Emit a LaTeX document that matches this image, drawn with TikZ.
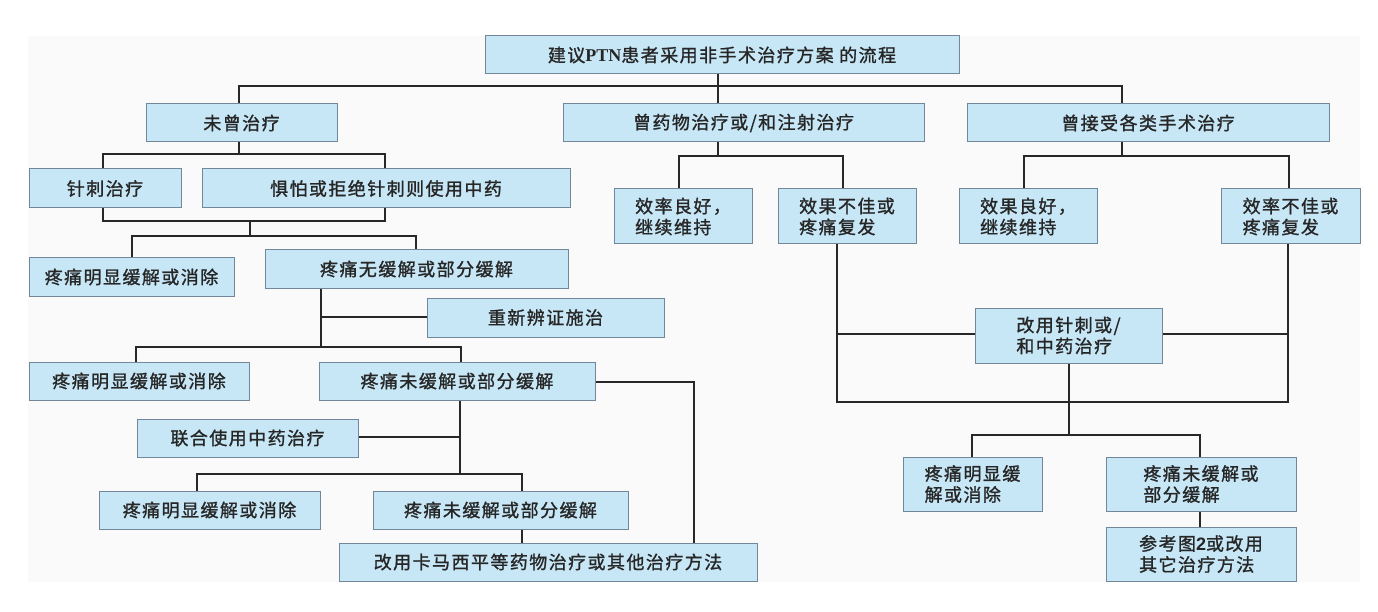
\documentclass[tikz,border=0pt]{standalone}
\usepackage{fontspec}
\setmainfont{Noto Sans CJK SC}[LetterSpace=8, FakeBold=1.2]
\newfontfamily\latser{Liberation Serif}[BoldFont={Liberation Serif Bold}]
\newfontfamily\latsans{Liberation Sans}[BoldFont={Liberation Sans Bold}]
\definecolor{boxc}{RGB}{199,231,246}
\definecolor{bordc}{RGB}{115,135,155}
\definecolor{linec}{RGB}{40,40,40}
\definecolor{bgc}{RGB}{250,250,250}
\begin{document}
\begin{tikzpicture}[x=1pt,y=-1pt,
  bx/.style={draw=bordc, fill=boxc, line width=1pt, inner sep=0pt,
    font=\fontsize{18}{21}\selectfont, text=black!85, align=left},
  conn/.style={draw=linec, line width=2pt}]
\useasboundingbox (0,0) rectangle (1378,612);
\fill[white] (0,0) rectangle (1378,612);
\fill[bgc] (28,36) rectangle (1360,582);
% nodes
\node[bx, minimum width=474pt, minimum height=38pt] (top) at (722,55) {建议{\latser\bfseries PTN}患者采用非手术治疗方案 的流程};
\node[bx, minimum width=191pt, minimum height=38pt] (n1) at (241.5,123) {未曾治疗};
\node[bx, minimum width=361pt, minimum height=38pt] (n2) at (743.5,123) {曾药物治疗或/和注射治疗};
\node[bx, minimum width=362pt, minimum height=38pt] (n3) at (1148,123) {曾接受各类手术治疗};
\node[bx, minimum width=152pt, minimum height=39pt] (a1) at (105,188.5) {针刺治疗};
\node[bx, minimum width=368pt, minimum height=39pt] (a2) at (386,188.5) {惧怕或拒绝针刺则使用中药};
\node[bx, minimum width=205pt, minimum height=38pt] (b1) at (131.5,277) {疼痛明显缓解或消除};
\node[bx, minimum width=303pt, minimum height=38pt] (b2) at (416.5,269) {疼痛无缓解或部分缓解};
\node[bx, minimum width=237pt, minimum height=39pt] (c) at (545.5,317.5) {重新辨证施治};
\node[bx, minimum width=220pt, minimum height=38pt] (d1) at (139,381) {疼痛明显缓解或消除};
\node[bx, minimum width=276pt, minimum height=38pt] (d2) at (457,381) {疼痛未缓解或部分缓解};
\node[bx, minimum width=221pt, minimum height=38pt] (e) at (247.5,438) {联合使用中药治疗};
\node[bx, minimum width=221pt, minimum height=38pt] (f1) at (209.5,510) {疼痛明显缓解或消除};
\node[bx, minimum width=255pt, minimum height=38pt] (f2) at (500.5,510) {疼痛未缓解或部分缓解};
\node[bx, minimum width=418pt, minimum height=38pt] (g) at (548,562) {改用卡马西平等药物治疗或其他治疗方法};
\node[bx, minimum width=138pt, minimum height=55pt] (m1) at (683,216.5) {效率良好，\\继续维持};
\node[bx, minimum width=138pt, minimum height=55pt] (m2) at (847,216.5) {效果不佳或\\疼痛复发};
\node[bx, minimum width=138pt, minimum height=55pt] (r1) at (1028,216.5) {效果良好，\\继续维持};
\node[bx, minimum width=139pt, minimum height=55pt] (r2) at (1290.5,216.5) {效率不佳或\\疼痛复发};
\node[bx, minimum width=187pt, minimum height=55pt] (k) at (1068.5,335.5) {改用针刺或/\\和中药治疗};
\node[bx, minimum width=139pt, minimum height=54pt] (p1) at (972.5,484) {疼痛明显缓\\解或消除};
\node[bx, minimum width=190pt, minimum height=54pt] (p2) at (1201,484) {疼痛未缓解或\\部分缓解};
\node[bx, minimum width=190pt, minimum height=54pt] (q) at (1201,554) {参考图{\latsans\bfseries 2}或改用\\其它治疗方法};
% junction coordinates
\coordinate (j0) at (718,86);
\coordinate (j1) at (239,86);
\coordinate (j2) at (1122,86);
\coordinate (ja) at (239,154);
\coordinate (ja1) at (103,154);
\coordinate (ja2) at (385,154);
\coordinate (jb1) at (103,221);
\coordinate (jb2) at (385,221);
\coordinate (jb) at (250,221);
\coordinate (jc) at (250,236);
\coordinate (jc1) at (132,236);
\coordinate (jc2) at (416,236);
\coordinate (jd) at (321,347);
\coordinate (jd0) at (321,317);
\coordinate (jd1) at (136,347);
\coordinate (jd2) at (461,347);
\coordinate (je) at (694,382);
\coordinate (jf) at (460,474);
\coordinate (jf0) at (460,437);
\coordinate (jf1) at (197,474);
\coordinate (jf2) at (522,474);
\coordinate (jm) at (718,156);
\coordinate (jm1) at (679,156);
\coordinate (jm2) at (843,156);
\coordinate (jr) at (1122,156);
\coordinate (jr1) at (1024,156);
\coordinate (jr2) at (1289,156);
\coordinate (jk1) at (837,402);
\coordinate (jk2) at (1288,402);
\coordinate (jk3) at (837,334);
\coordinate (jk4) at (1288,334);
\coordinate (jp) at (1069,435);
\coordinate (jp1) at (972,435);
\coordinate (jp2) at (1200,435);
% connectors
\draw[conn] (j0 |- top.south) -- (j0 |- n2.north);
\draw[conn] (j1 |- n1.north) -- (j1) -- (j2) -- (j2 |- n3.north);
\draw[conn] (ja |- n1.south) -- (ja);
\draw[conn] (ja1 |- a1.north) -- (ja1) -- (ja2) -- (ja2 |- a2.north);
\draw[conn] (jb1 |- a1.south) -- (jb1) -- (jb2) -- (jb2 |- a2.south);
\draw[conn] (jb) -- (jc);
\draw[conn] (jc1 |- b1.north) -- (jc1) -- (jc2) -- (jc2 |- b2.north);
\draw[conn] (jd |- b2.south) -- (jd);
\draw[conn] (jd0) -- (jd0 -| c.west);
\draw[conn] (jd1 |- d1.north) -- (jd1) -- (jd2) -- (jd2 |- d2.north);
\draw[conn] (je -| d2.east) -- (je) -- (je |- g.north);
\draw[conn] (jf |- d2.south) -- (jf);
\draw[conn] (jf0 -| e.east) -- (jf0);
\draw[conn] (jf1 |- f1.north) -- (jf1) -- (jf2) -- (jf2 |- f2.north);
\draw[conn] (jf2 |- f2.south) -- (jf2 |- g.north);
\draw[conn] (jm |- n2.south) -- (jm);
\draw[conn] (jm1 |- m1.north) -- (jm1) -- (jm2) -- (jm2 |- m2.north);
\draw[conn] (jr |- n3.south) -- (jr);
\draw[conn] (jr1 |- r1.north) -- (jr1) -- (jr2) -- (jr2 |- r2.north);
\draw[conn] (jk1 |- m2.south) -- (jk1) -- (jk2) -- (jk2 |- r2.south);
\draw[conn] (jk3) -- (jk3 -| k.west);
\draw[conn] (jk4 -| k.east) -- (jk4);
\draw[conn] (jp |- k.south) -- (jp);
\draw[conn] (jp1 |- p1.north) -- (jp1) -- (jp2) -- (jp2 |- p2.north);
\draw[conn] (jp2 |- p2.south) -- (jp2 |- q.north);
\end{tikzpicture}
\end{document}
